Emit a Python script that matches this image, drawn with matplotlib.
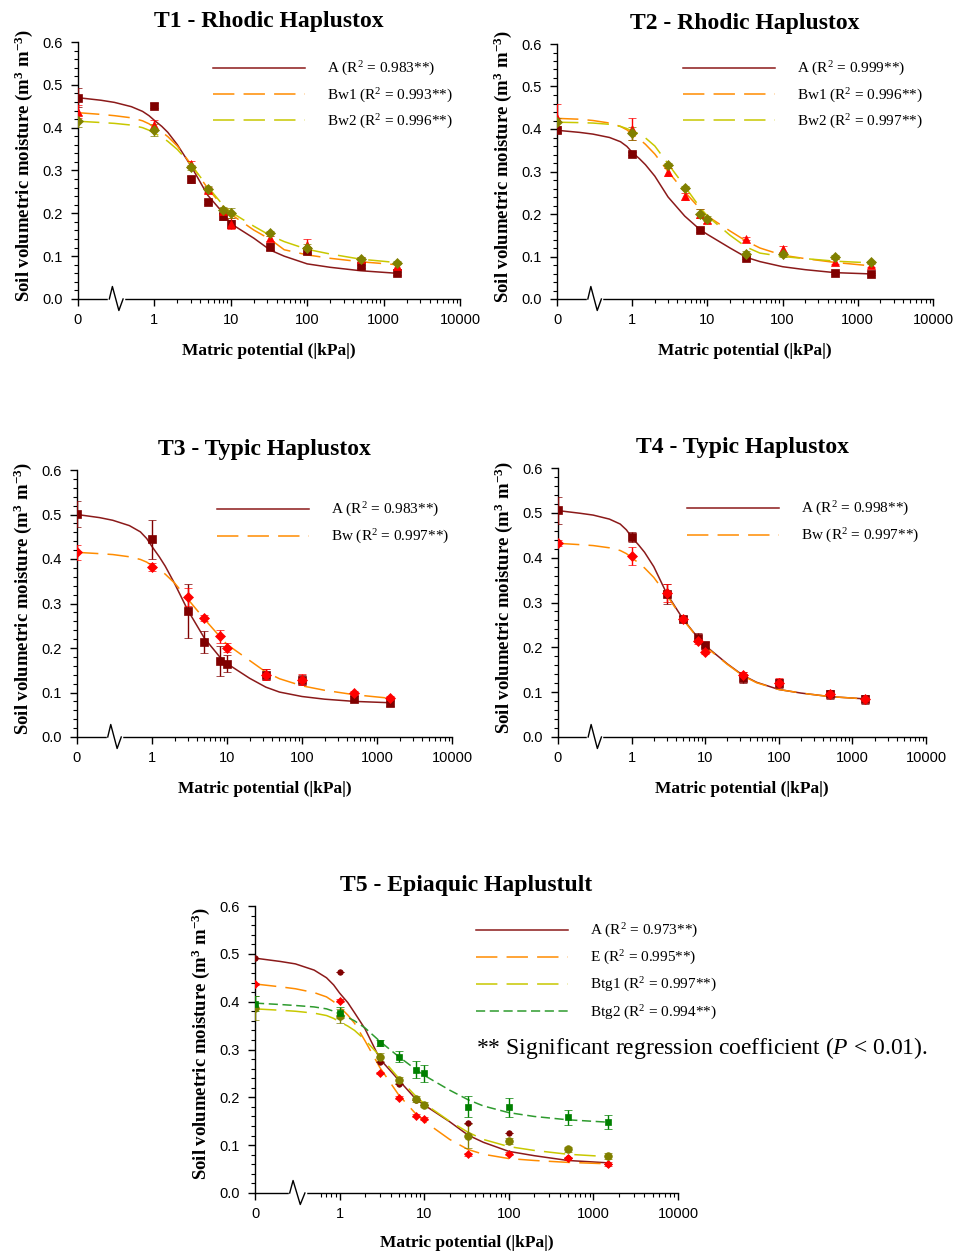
import numpy as np
import matplotlib
matplotlib.use("Agg")
import matplotlib.pyplot as plt
from matplotlib.ticker import FixedLocator, MultipleLocator, FixedFormatter, NullFormatter, FormatStrFormatter
from matplotlib.lines import Line2D

plt.rcParams['font.family'] = ['Liberation Sans', 'DejaVu Sans']
plt.rcParams['mathtext.fontset'] = 'custom'
plt.rcParams['mathtext.rm'] = 'Liberation Serif'
plt.rcParams['mathtext.it'] = 'Liberation Serif:italic'
plt.rcParams['mathtext.bf'] = 'Liberation Serif:bold'

SERIF = ['Liberation Serif', 'DejaVu Serif']

# ---------------- data ----------------
# matric potential (|kPa|) of the measurements
PSI = [0, 1, 3, 5, 8, 10, 33, 100, 500, 1500]
# points along the fitted retention curves (axis positions, 0 drawn at the "0" tick)
PSI_FIT = [0, 0.2, 0.3, 0.5, 0.7, 0.85, 1, 1.25, 1.5, 2, 3, 5, 8, 10, 20, 33, 50, 100, 200, 500, 1500]
XTICK_VALUES = [0, 1, 10, 100, 1000, 10000]
XTICK_LABELS = ['0', '1', '10', '100', '1000', '10000']

nan = np.nan

# T1 - Rhodic Haplustox
T1_A = [0.470, 0.451, 0.279, 0.227, 0.193, 0.175, 0.122, 0.112, 0.076, 0.060]
T1_A_ERR = [0.022, 0.006, 0.008, 0.005, 0.008, 0.010, 0.008, 0.008, 0.004, 0.004]
T1_BW1 = [0.437, 0.407, 0.316, 0.255, 0.205, 0.176, 0.142, 0.125, 0.093, 0.076]
T1_BW1_ERR = [0.015, 0.012, 0.006, 0.006, 0.008, 0.012, 0.006, 0.015, 0.004, 0.006]
T1_BW2 = [0.416, 0.394, 0.308, 0.256, 0.207, 0.200, 0.153, 0.118, 0.094, 0.085]
T1_BW2_ERR = [0.014, 0.014, 0.006, 0.008, 0.008, 0.012, 0.006, 0.010, 0.004, 0.004]
T1_A_FIT = [0.470, 0.464, 0.459, 0.449, 0.438, 0.428, 0.417, 0.403, 0.389, 0.360, 0.311, 0.242, 0.200, 0.176, 0.142, 0.114, 0.100, 0.082, 0.074, 0.066, 0.060]
T1_BW1_FIT = [0.435, 0.431, 0.428, 0.423, 0.416, 0.409, 0.400, 0.390, 0.379, 0.357, 0.315, 0.258, 0.215, 0.198, 0.161, 0.139, 0.115, 0.103, 0.095, 0.087, 0.080]
T1_BW2_FIT = [0.415, 0.412, 0.410, 0.406, 0.400, 0.394, 0.387, 0.378, 0.368, 0.349, 0.314, 0.262, 0.218, 0.203, 0.170, 0.148, 0.134, 0.116, 0.105, 0.093, 0.085]
T1_LABELS = ['A (R$^{2}$ = 0.983**)', 'Bw1 (R$^{2}$ = 0.993**)', 'Bw2 (R$^{2}$ = 0.996**)']

# T2 - Rhodic Haplustox
T2_A = [0.397, 0.342, nan, nan, 0.162, nan, 0.097, nan, 0.062, 0.059]
T2_A_ERR = [0.006, 0.004, 0, 0, 0.004, 0, 0.004, 0, 0.003, 0.003]
T2_BW1 = [0.426, 0.400, 0.299, 0.242, 0.201, 0.185, 0.142, 0.117, 0.088, 0.080]
T2_BW1_ERR = [0.032, 0.025, 0.010, 0.008, 0.010, 0.006, 0.004, 0.008, 0.005, 0.005]
T2_BW2 = [0.416, 0.390, 0.315, 0.262, 0.201, 0.189, 0.106, 0.105, 0.099, 0.086]
T2_BW2_ERR = [0.010, 0.015, 0.006, 0.004, 0.010, 0.006, 0.008, 0.006, 0.004, 0.004]
T2_A_FIT = [0.397, 0.392, 0.388, 0.380, 0.370, 0.359, 0.345, 0.330, 0.316, 0.289, 0.240, 0.195, 0.163, 0.152, 0.120, 0.098, 0.088, 0.076, 0.069, 0.062, 0.059]
T2_BW1_FIT = [0.425, 0.423, 0.420, 0.414, 0.406, 0.398, 0.388, 0.376, 0.364, 0.341, 0.300, 0.252, 0.212, 0.195, 0.160, 0.136, 0.120, 0.103, 0.095, 0.086, 0.078]
T2_BW2_FIT = [0.416, 0.415, 0.414, 0.411, 0.406, 0.401, 0.395, 0.388, 0.379, 0.360, 0.318, 0.265, 0.215, 0.195, 0.150, 0.122, 0.108, 0.100, 0.095, 0.089, 0.085]
T2_LABELS = ['A (R$^{2}$ = 0.999**)', 'Bw1 (R$^{2}$ = 0.996**)', 'Bw2 (R$^{2}$ = 0.997**)']

# T3 - Typic Haplustox
T3_A = [0.501, 0.444, 0.283, 0.213, 0.171, 0.165, 0.140, 0.128, 0.086, 0.077]
T3_A_ERR = [0.030, 0.043, 0.060, 0.025, 0.033, 0.020, 0.012, 0.012, 0.006, 0.008]
T3_BW = [0.415, 0.382, 0.315, 0.267, 0.226, 0.201, 0.140, 0.129, 0.098, 0.087]
T3_BW_ERR = [0.017, 0.010, 0.020, 0.007, 0.015, 0.010, 0.013, 0.012, 0.006, 0.006]
T3_A_FIT = [0.500, 0.493, 0.487, 0.475, 0.461, 0.446, 0.428, 0.405, 0.384, 0.345, 0.285, 0.222, 0.180, 0.165, 0.132, 0.112, 0.101, 0.091, 0.085, 0.080, 0.077]
T3_BW_FIT = [0.415, 0.412, 0.410, 0.405, 0.399, 0.393, 0.385, 0.376, 0.366, 0.346, 0.310, 0.265, 0.226, 0.208, 0.172, 0.146, 0.131, 0.115, 0.105, 0.095, 0.087]
T3_LABELS = ['A (R$^{2}$ = 0.983**)', 'Bw (R$^{2}$ = 0.997**)']

# T4 - Typic Haplustox
T4_A = [0.506, 0.446, 0.319, 0.264, 0.221, 0.206, 0.132, 0.120, 0.095, 0.084]
T4_A_ERR = [0.030, 0.012, 0.022, 0.006, 0.010, 0.006, 0.012, 0.010, 0.010, 0.010]
T4_BW = [0.433, 0.403, 0.321, 0.264, 0.214, 0.190, 0.139, 0.121, 0.097, 0.085]
T4_BW_ERR = [0.007, 0.020, 0.020, 0.006, 0.006, 0.005, 0.006, 0.010, 0.006, 0.006]
T4_A_FIT = [0.505, 0.499, 0.495, 0.486, 0.475, 0.462, 0.446, 0.428, 0.412, 0.380, 0.320, 0.263, 0.221, 0.204, 0.163, 0.137, 0.122, 0.106, 0.098, 0.090, 0.085]
T4_BW_FIT = [0.432, 0.429, 0.427, 0.422, 0.416, 0.409, 0.400, 0.388, 0.377, 0.356, 0.317, 0.262, 0.220, 0.202, 0.162, 0.136, 0.121, 0.106, 0.098, 0.090, 0.085]
T4_LABELS = ['A (R$^{2}$ = 0.998**)', 'Bw (R$^{2}$ = 0.997**)']

# T5 - Epiaquic Haplustult
T5_A = [0.491, 0.461, 0.273, 0.227, 0.195, 0.185, 0.147, 0.126, 0.073, 0.061]
T5_A_ERR = [0, 0, 0, 0, 0, 0, 0, 0, 0, 0]
T5_E = [0.437, 0.402, 0.251, 0.199, 0.162, 0.155, 0.081, 0.082, 0.073, 0.060]
T5_E_ERR = [0.003, 0.003, 0.003, 0.003, 0.003, 0.003, 0.003, 0.003, 0.003, 0.004]
T5_BTG1 = [0.387, 0.370, 0.285, 0.236, 0.197, 0.185, 0.120, 0.109, 0.091, 0.077]
T5_BTG1_ERR = [0.025, 0.015, 0.008, 0.006, 0.006, 0.005, 0.025, 0.006, 0.006, 0.006]
T5_BTG2 = [0.396, 0.377, 0.314, 0.285, 0.258, 0.250, 0.180, 0.179, 0.158, 0.148]
T5_BTG2_ERR = [0.015, 0.012, 0.006, 0.012, 0.017, 0.018, 0.022, 0.020, 0.015, 0.015]
T5_A_FIT = [0.491, 0.484, 0.479, 0.466, 0.450, 0.435, 0.418, 0.398, 0.377, 0.343, 0.280, 0.236, 0.196, 0.184, 0.149, 0.121, 0.106, 0.087, 0.078, 0.068, 0.063]
T5_E_FIT = [0.437, 0.431, 0.427, 0.419, 0.410, 0.400, 0.389, 0.372, 0.355, 0.318, 0.262, 0.205, 0.165, 0.150, 0.112, 0.091, 0.081, 0.072, 0.068, 0.064, 0.061]
T5_BTG1_FIT = [0.385, 0.382, 0.380, 0.376, 0.371, 0.365, 0.358, 0.349, 0.340, 0.320, 0.286, 0.240, 0.202, 0.187, 0.150, 0.127, 0.112, 0.097, 0.089, 0.081, 0.076]
T5_BTG2_FIT = [0.397, 0.394, 0.392, 0.389, 0.385, 0.380, 0.374, 0.367, 0.360, 0.345, 0.317, 0.285, 0.258, 0.246, 0.215, 0.195, 0.182, 0.168, 0.160, 0.153, 0.148]
T5_LABELS = ['A (R$^{2}$ = 0.973**)', 'E (R$^{2}$ = 0.995**)', 'Btg1 (R$^{2}$ = 0.997**)', 'Btg2 (R$^{2}$ = 0.994**)']

TITLES = ['T1 - Rhodic Haplustox', 'T2 - Rhodic Haplustox', 'T3 - Typic Haplustox',
          'T4 - Typic Haplustox', 'T5 - Epiaquic Haplustult']
FOOTNOTE = r'** Significant regression coefficient ($\mathit{P}$ < 0.01).'

# ---------------- styles ----------------
ZERO_POS = 0.1  # where "0" sits on the broken log axis
C_A_LINE, C_A_MK = '#8B1A1A', '#800000'
C_B1_LINE, C_B1_MK = '#FF8C00', '#FF0000'
C_B2_LINE, C_B2_MK = '#C8C800', '#808000'
C_G_LINE, C_G_MK = '#2E9B2E', '#008000'

STY_A = dict(line=C_A_LINE, ls='-', mk=C_A_MK)
STY_B1 = dict(line=C_B1_LINE, ls=(0, (14, 6)), mk=C_B1_MK)
STY_B2 = dict(line=C_B2_LINE, ls=(0, (14, 6)), mk=C_B2_MK)
STY_G = dict(line=C_G_LINE, ls=(0, (6, 3)), mk=C_G_MK)

W, H = 959, 1251
fig = plt.figure(figsize=(W / 100, H / 100), dpi=100)


def px_axes(l, r, t, b):
    return fig.add_axes([l / W, 1 - b / H, (r - l) / W, (b - t) / H])


def xpos(vals):
    v = np.asarray(vals, dtype=float)
    return np.where(v == 0, ZERO_POS, v)


def setup(ax, title, minor_start=1.0, xlabelpad=11.5):
    ax.set_xscale('log')
    ax.set_xlim(ZERO_POS, 10000)
    ax.set_ylim(0, 0.6)
    ax.spines['top'].set_visible(False)
    ax.spines['right'].set_visible(False)
    ax.spines['left'].set_linewidth(1.0)
    ax.spines['bottom'].set_linewidth(1.0)
    ax.xaxis.set_major_locator(FixedLocator(xpos(XTICK_VALUES)))
    ax.xaxis.set_major_formatter(FixedFormatter(XTICK_LABELS))
    minors = [m * 10.0 ** d for d in range(-1, 4) for m in range(2, 10)]
    minors = [m for m in minors if m >= minor_start]
    ax.xaxis.set_minor_locator(FixedLocator(minors))
    ax.xaxis.set_minor_formatter(NullFormatter())
    ax.yaxis.set_major_locator(MultipleLocator(0.1))
    ax.yaxis.set_minor_locator(MultipleLocator(0.02))
    ax.yaxis.set_major_formatter(FormatStrFormatter('%.1f'))
    ax.tick_params(which='major', direction='out', length=5, width=1.0, labelsize=10.5, pad=6)
    ax.tick_params(which='minor', direction='out', length=3, width=0.8)
    ax.tick_params(axis='x', which='major', pad=5)
    ax.set_title(title, family=SERIF, fontsize=17, fontweight='bold', pad=11)
    ax.set_xlabel('Matric potential (|kPa|)', family=SERIF, fontsize=12.5,
                  fontweight='bold', labelpad=xlabelpad)
    ax.set_ylabel(r'Soil volumetric moisture (m$^{\mathbf{3}}$ m$^{\mathbf{-3}}$)',
                  family=SERIF, fontsize=13.5, fontweight='bold', labelpad=5, y=0.52)
    # axis break symbol between 0 and 1
    hpx = ax.get_position().height * H
    xs = [10 ** -0.59, 10 ** -0.55, 10 ** -0.465, 10 ** -0.41]
    ys = [0, 12.5 / hpx, -11.5 / hpx, 0]
    tr = ax.get_xaxis_transform()
    ax.plot([xs[0], xs[-1]], [0, 0], color='white', lw=2.5, transform=tr,
            clip_on=False, zorder=5)
    ax.plot(xs, ys, color='black', lw=1.0, transform=tr, clip_on=False, zorder=6)


def series(ax, y, err, fit, sty, marker, ms):
    ax.plot(xpos(PSI_FIT), fit, color=sty['line'], ls=sty['ls'], lw=1.1, zorder=2)
    ax.errorbar(xpos(PSI), y, yerr=err, fmt=marker, color=sty['mk'], ms=ms,
                ecolor=sty['mk'], elinewidth=1.0, capsize=3, capthick=1.0, zorder=3,
                markeredgewidth=0.5)


def legend(ax, styles, labels, x_px, y_px, pitch):
    handles = [Line2D([], [], color=s['line'], ls=s['ls'], lw=1.1) for s in styles]
    ax.legend(handles, labels, loc='upper left', bbox_to_anchor=(x_px / W, 1 - y_px / H),
              bbox_transform=fig.transFigure, frameon=False, borderpad=0,
              borderaxespad=0, handlelength=6.0, handletextpad=1.45,
              labelspacing=pitch, prop={'family': SERIF, 'size': 11})


# ---- T1 ----
ax1 = px_axes(78, 460, 42, 299)
setup(ax1, TITLES[0])
series(ax1, T1_A, T1_A_ERR, T1_A_FIT, STY_A, 's', 5.5)
series(ax1, T1_BW1, T1_BW1_ERR, T1_BW1_FIT, STY_B1, '^', 5.5)
series(ax1, T1_BW2, T1_BW2_ERR, T1_BW2_FIT, STY_B2, 'D', 5)
legend(ax1, [STY_A, STY_B1, STY_B2], T1_LABELS, 213, 60, 0.53)

# ---- T2 ----
ax2 = px_axes(557, 933, 44, 299)
setup(ax2, TITLES[1])
series(ax2, T2_A, T2_A_ERR, T2_A_FIT, STY_A, 's', 5.5)
series(ax2, T2_BW1, T2_BW1_ERR, T2_BW1_FIT, STY_B1, '^', 5.5)
series(ax2, T2_BW2, T2_BW2_ERR, T2_BW2_FIT, STY_B2, 'D', 5)
legend(ax2, [STY_A, STY_B1, STY_B2], T2_LABELS, 683, 60, 0.53)

# ---- T3 ----
ax3 = px_axes(77, 452, 470, 737)
setup(ax3, TITLES[2])
series(ax3, T3_A, T3_A_ERR, T3_A_FIT, STY_A, 's', 5.5)
series(ax3, T3_BW, T3_BW_ERR, T3_BW_FIT, STY_B1, 'D', 5)
legend(ax3, [STY_A, STY_B1], T3_LABELS, 217, 501, 0.57)

# ---- T4 ----
ax4 = px_axes(558, 926, 468, 737)
setup(ax4, TITLES[3])
series(ax4, T4_A, T4_A_ERR, T4_A_FIT, STY_A, 's', 5.5)
series(ax4, T4_BW, T4_BW_ERR, T4_BW_FIT, STY_B1, 'D', 5)
legend(ax4, [STY_A, STY_B1], T4_LABELS, 687, 500, 0.57)

# ---- T5 ----
ax5 = px_axes(255, 678, 906, 1193)
setup(ax5, TITLES[4], minor_start=0.6, xlabelpad=10)
series(ax5, T5_A, T5_A_ERR, T5_A_FIT, STY_A, 'o', 4)
series(ax5, T5_E, T5_E_ERR, T5_E_FIT, STY_B1, 'D', 4.5)
series(ax5, T5_BTG1, T5_BTG1_ERR, T5_BTG1_FIT, STY_B2, 'o', 5.5)
series(ax5, T5_BTG2, T5_BTG2_ERR, T5_BTG2_FIT, STY_G, 's', 5)
legend(ax5, [STY_A, STY_B1, STY_B2, STY_G], T5_LABELS, 476, 922, 0.58)

fig.text(476 / W, 1 - 1048 / H, FOOTNOTE, family=SERIF, fontsize=17, va='center', ha='left')

fig.savefig('out.png', dpi=100)
